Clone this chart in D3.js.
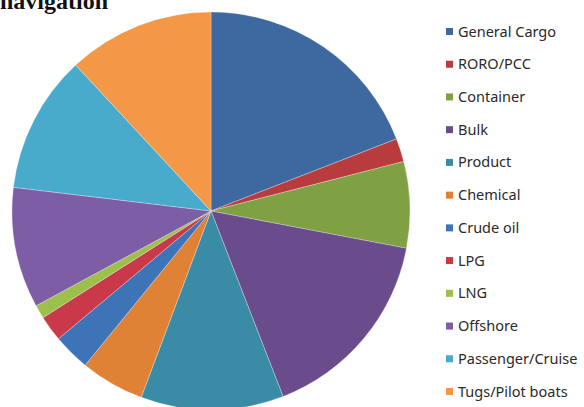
<!DOCTYPE html>
<html>
<head>
<meta charset="utf-8">
<script src="https://cdn.jsdelivr.net/npm/d3@7/dist/d3.min.js"></script>
<style>
  html, body { margin: 0; padding: 0; background: #ffffff; }
  svg { display: block; }
</style>
</head>
<body>
<svg id="chart" width="584" height="407"></svg>
<script>
// Share of ships by type (percent)
const categories = ["General Cargo", "RORO/PCC", "Container", "Bulk", "Product", "Chemical",
                    "Crude oil", "LPG", "LNG", "Offshore", "Passenger/Cruise", "Tugs/Pilot boats"];
const shares = [19.1, 1.9, 7.0, 16.1, 11.6, 5.2, 3.0, 2.1, 1.1, 9.8, 11.2, 11.9];
const colors = ["#3e68a0", "#b83c3e", "#7fa043", "#6a4c8c", "#3a8ca6", "#df8236",
                "#3d74b8", "#c9394a", "#9dbf4c", "#7e5da7", "#48abcb", "#f29846"];
const titleText = "navigation";

const svg = d3.select("#chart");

// Heading, partly above the top edge
svg.append("text")
  .attr("x", 0).attr("y", 9)
  .attr("font-family", "'Liberation Serif', 'Times New Roman', serif")
  .attr("font-weight", "bold")
  .attr("font-size", 24)
  .attr("fill", "#111")
  .text(titleText);

const cx = 211, cy = 211, r = 199;
const data = categories.map((c, i) => ({ name: c, value: shares[i], color: colors[i] }));

const pie = d3.pie().sort(null).value(d => d.value);
const arc = d3.arc().innerRadius(0).outerRadius(r);

const g = svg.append("g").attr("transform", `translate(${cx},${cy})`);
g.selectAll("path")
  .data(pie(data))
  .join("path")
  .attr("d", arc)
  .attr("fill", d => d.data.color)
  .attr("stroke", "rgba(255,255,255,0.35)")
  .attr("stroke-width", 0.8);

// Legend
const legendY = d3.scalePoint().domain(categories).range([31.5, 391.5]);
const lg = svg.append("g");
const rows = lg.selectAll("g").data(data).join("g")
  .attr("transform", d => `translate(446,${legendY(d.name)})`);
rows.append("rect")
  .attr("x", 0).attr("y", -3.5).attr("width", 7).attr("height", 7)
  .attr("fill", d => d.color);
rows.append("text")
  .attr("x", 12).attr("y", 0)
  .attr("dy", "0.35em")
  .attr("font-family", "'Noto Sans', 'Open Sans', sans-serif")
  .attr("font-size", 14.5)
  .attr("fill", "#2a2a2a")
  .text(d => d.name);
</script>
</body>
</html>
